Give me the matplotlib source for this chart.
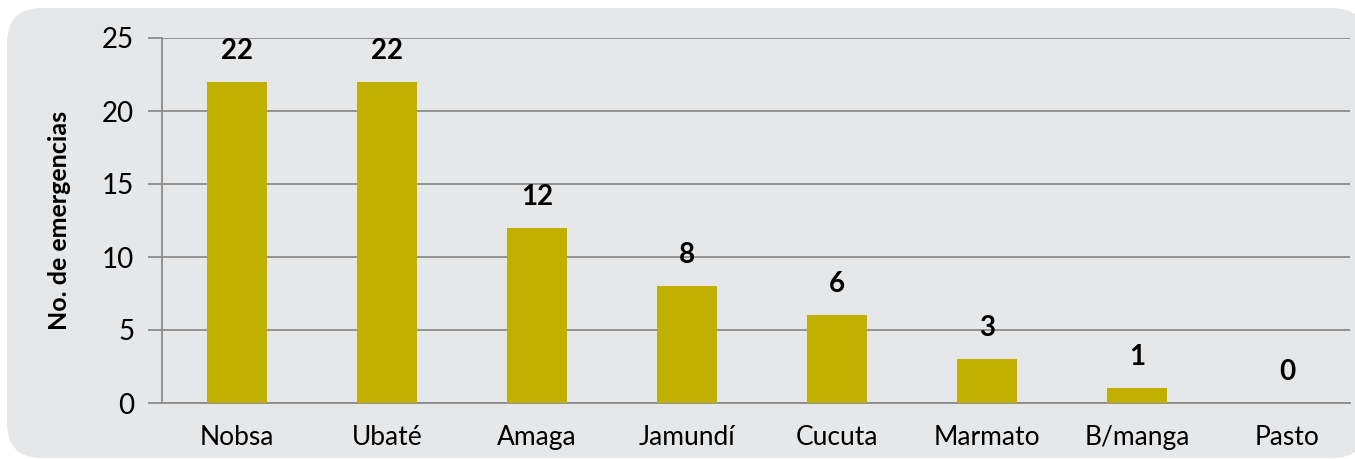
import matplotlib.pyplot as plt
from matplotlib.patches import FancyBboxPatch

# ===== datos =====
ciudades = ["Nobsa", "Ubaté", "Amaga", "Jamundí", "Cucuta", "Marmato", "B/manga", "Pasto"]
emergencias = [22, 22, 12, 8, 6, 3, 1, 0]

plt.rcParams["font.family"] = ["Lato", "DejaVu Sans"]

fig = plt.figure(figsize=(13.55, 4.59), dpi=100)
fig.patch.set_facecolor("white")

# fondo gris redondeado
caja = FancyBboxPatch((7, 1), 1360, 450, boxstyle="round,pad=0,rounding_size=35",
                      transform=None, facecolor="#E6E7E9", edgecolor="none", zorder=-5)
fig.patches.append(caja)

ax = fig.add_axes([162 / 1355, 1 - 403 / 459, (1350 - 162) / 1355, (403 - 38) / 459])
ax.set_zorder(2)
ax.set_facecolor("none")

x = range(len(ciudades))
ax.bar(x, emergencias, width=0.4, color="#C2B000", zorder=3)

for i, v in zip(x, emergencias):
    ax.text(i, v + 1.25, str(v), ha="center", va="bottom", fontsize=20, fontweight="bold")

ax.set_xlim(-0.5, 7.42)
ax.set_ylim(0, 25)
ax.set_yticks([0, 5, 10, 15, 20, 25])
ax.set_xticks(list(x))
ax.set_xticklabels(ciudades)

ax.yaxis.grid(True, color="#8C8C8C", linewidth=1.3, zorder=1)
ax.set_axisbelow(True)

for s in ["top", "right"]:
    ax.spines[s].set_visible(False)
ax.spines["left"].set_color("#8C8C8C")
ax.spines["bottom"].set_color("#8C8C8C")
ax.spines["left"].set_linewidth(1.3)
ax.spines["bottom"].set_linewidth(1.3)

ax.tick_params(axis="y", length=10, width=1.3, color="#8C8C8C", pad=10, labelsize=20)
ax.tick_params(axis="x", length=0, pad=16, labelsize=19)

ax.set_ylabel("No. de emergencias", fontsize=18, fontweight="bold", labelpad=22)

plt.savefig("out.png", dpi=100)
